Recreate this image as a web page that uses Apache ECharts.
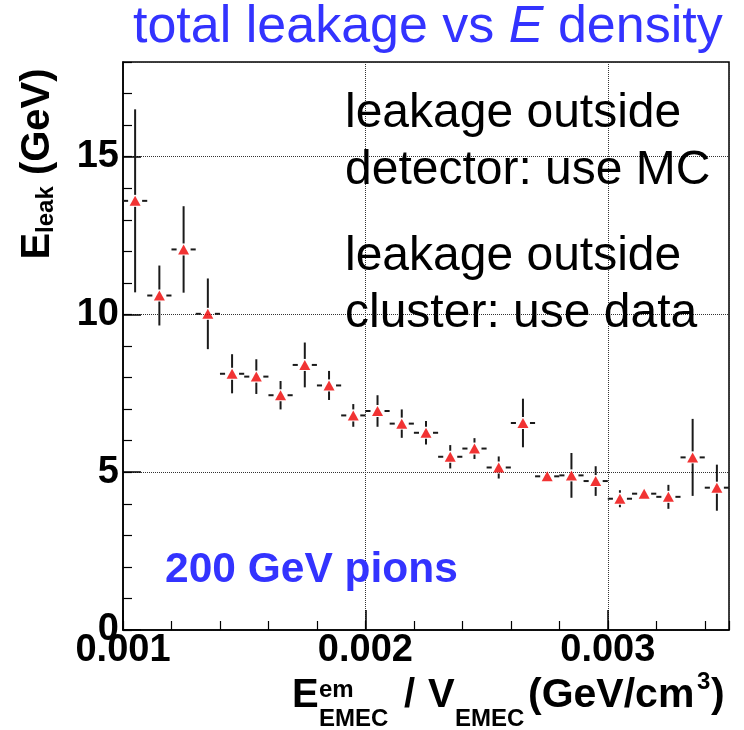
<!DOCTYPE html>
<html>
<head>
<meta charset="utf-8">
<script src="https://cdn.jsdelivr.net/npm/echarts@6/dist/echarts.min.js"></script>
<style>
  html, body { margin: 0; padding: 0; background: #ffffff; }
  #chart { width: 744px; height: 730px; }
</style>
</head>
<body>
<div id="chart"></div>
<script>
// Leakage energy per bin of EMEC energy density (200 GeV pions)
const binCenters = [0.00105, 0.00115, 0.00125, 0.00135, 0.00145, 0.00155, 0.00165, 0.00175,
                    0.00185, 0.00195, 0.00205, 0.00215, 0.00225, 0.00235, 0.00245, 0.00255,
                    0.00265, 0.00275, 0.00285, 0.00295, 0.00305, 0.00315, 0.00325, 0.00335,
                    0.00345];
const leakValues = [13.6, 10.6, 12.06, 10.02, 8.12, 8.03, 7.44, 8.40,
                    7.75, 6.80, 6.94, 6.54, 6.25, 5.49, 5.75, 5.15,
                    6.56, 4.87, 4.90, 4.72, 4.16, 4.32, 4.22, 5.47,
                    4.51];
const leakErrors = [2.9, 0.95, 1.37, 1.12, 0.62, 0.55, 0.45, 0.71,
                    0.46, 0.36, 0.50, 0.45, 0.37, 0.37, 0.33, 0.35,
                    0.77, 0.15, 0.71, 0.47, 0.27, 0.15, 0.38, 1.22,
                    0.73];
const binHalfWidth = 0.00005;
const xTickLabels = ['0.001', '0.002', '0.003'];
const yTickLabels = ['0', '5', '10', '15'];

const FONT = '"Liberation Sans", Arial, Helvetica, sans-serif';
const BLUE = '#3333ff';

function pickLabel(labels) {
  return function (v) {
    for (const s of labels) {
      if (Math.abs(Number(s) - v) < 1e-9) return s;
    }
    return '';
  };
}

function renderErrorBar(params, api) {
  const x = api.value(0), y = api.value(1), e = api.value(2), hw = api.value(3);
  const c = api.coord([x, y]);
  const left = api.coord([x - hw, y])[0];
  const right = api.coord([x + hw, y])[0];
  const top = api.coord([x, y + e])[1];
  const bot = api.coord([x, y - e])[1];
  const hGap = 7, vGap = 6;
  const style = { stroke: '#1a1a1a', lineWidth: 2 };
  const kids = [];
  if (c[0] - hGap > left) kids.push({ type: 'line', shape: { x1: left, y1: c[1], x2: c[0] - hGap, y2: c[1] }, style });
  if (right > c[0] + hGap) kids.push({ type: 'line', shape: { x1: c[0] + hGap, y1: c[1], x2: right, y2: c[1] }, style });
  if (c[1] - vGap > top) kids.push({ type: 'line', shape: { x1: c[0], y1: top, x2: c[0], y2: c[1] - vGap }, style });
  if (bot > c[1] + vGap) kids.push({ type: 'line', shape: { x1: c[0], y1: c[1] + vGap, x2: c[0], y2: bot }, style });
  return { type: 'group', children: kids };
}

function txt(text, x, y, size, opts) {
  opts = opts || {};
  return {
    type: 'text', x: x, y: y, z: 100,
    style: {
      text: text, fill: opts.fill || '#000', fontFamily: FONT, fontSize: size,
      fontWeight: opts.weight || 'normal', fontStyle: opts.style || 'normal',
      align: opts.align || 'left', verticalAlign: opts.valign || 'middle',
      lineHeight: opts.lineHeight, rich: opts.rich
    }
  };
}

const chart = echarts.init(document.getElementById('chart'), null, { renderer: 'canvas' });

const tickFont = { fontFamily: FONT, fontSize: 38, fontWeight: 'bold', color: '#000' };

chart.setOption({
  animation: false,
  backgroundColor: '#ffffff',
  grid: { left: 123, right: 15, top: 62, bottom: 100, show: true, borderColor: '#000', borderWidth: 1.5, backgroundColor: 'transparent' },
  xAxis: [
    {
      type: 'value', min: 0.001, max: 0.0035, interval: 0.001, position: 'bottom',
      axisLine: { show: true, lineStyle: { color: '#000', width: 1.5 } },
      axisTick: { show: true, inside: true, length: 20, lineStyle: { color: '#000', width: 1.5 } },
      axisLabel: Object.assign({ margin: 2, formatter: pickLabel(xTickLabels), showMaxLabel: false }, tickFont),
      splitLine: { show: true, lineStyle: { color: '#333', width: 1, type: 'dotted' } }
    },
    {
      type: 'value', min: 0.001, max: 0.0035, interval: 0.0002, position: 'bottom',
      axisLine: { show: false },
      axisTick: { show: true, inside: true, length: 9, lineStyle: { color: '#000', width: 1.2 } },
      axisLabel: { show: false },
      splitLine: { show: false }
    }
  ],
  yAxis: [
    {
      type: 'value', min: 0, max: 18, interval: 5, position: 'left',
      axisLine: { show: true, lineStyle: { color: '#000', width: 1.5 } },
      axisTick: { show: true, inside: true, length: 18, lineStyle: { color: '#000', width: 1.5 } },
      axisLabel: Object.assign({ margin: 4, formatter: pickLabel(yTickLabels), showMaxLabel: false }, tickFont),
      splitLine: { show: true, lineStyle: { color: '#333', width: 1, type: 'dotted' } }
    },
    {
      type: 'value', min: 0, max: 18, interval: 1, position: 'left',
      axisLine: { show: false },
      axisTick: { show: true, inside: true, length: 9, lineStyle: { color: '#000', width: 1.2 } },
      axisLabel: { show: false },
      splitLine: { show: false }
    }
  ],
  series: [
    {
      type: 'custom', name: 'errors', xAxisIndex: 0, yAxisIndex: 0,
      renderItem: renderErrorBar,
      data: binCenters.map((x, i) => [x, leakValues[i], leakErrors[i], binHalfWidth]),
      z: 3, silent: true
    },
    {
      type: 'scatter', name: 'E_leak', xAxisIndex: 0, yAxisIndex: 0,
      symbol: 'triangle', symbolSize: [11, 10],
      itemStyle: { color: '#ee0000' },
      data: binCenters.map((x, i) => [x, leakValues[i]]),
      z: 4, silent: true
    }
  ],
  graphic: [
    // title
    txt('{n|total leakage vs }{i|E}{n| density}', 133, 28, 52, {
      fill: BLUE,
      rich: {
        n: { fontFamily: FONT, fontSize: 52, fill: BLUE },
        i: { fontFamily: FONT, fontSize: 52, fontStyle: 'italic', fill: BLUE }
      }
    }),
    // notes inside the frame
    txt('leakage outside\ndetector: use MC', 345, 85, 48, { valign: 'top', lineHeight: 57 }),
    txt('leakage outside\ncluster: use data', 345, 228, 48, { valign: 'top', lineHeight: 57 }),
    txt('200 GeV pions', 165, 570, 42.5, { fill: BLUE, weight: 'bold' }),
    // y axis title
    Object.assign(txt('{b|E}{s|leak}{b| (GeV)}', 38, 164, 40, {
      weight: 'bold', align: 'center',
      rich: {
        b: { fontFamily: FONT, fontSize: 40, fontWeight: 'bold', fill: '#000' },
        s: { fontFamily: FONT, fontSize: 24, fontWeight: 'bold', fill: '#000', verticalAlign: 'bottom' }
      }
    }), { rotation: Math.PI / 2 }),
    // x axis title
    txt('E', 292, 696, 40, { weight: 'bold' }),
    txt('em', 319, 690, 24, { weight: 'bold' }),
    txt('EMEC', 319, 719, 24, { weight: 'bold' }),
    txt('/', 404, 696, 40, { weight: 'bold' }),
    txt('V', 428, 696, 40, { weight: 'bold' }),
    txt('EMEC', 455, 719, 24, { weight: 'bold' }),
    txt('(GeV/cm', 528, 696, 41, { weight: 'bold' }),
    txt('3', 697, 682, 24, { weight: 'bold' }),
    txt(')', 711, 696, 41, { weight: 'bold' })
  ]
});
</script>
</body>
</html>
